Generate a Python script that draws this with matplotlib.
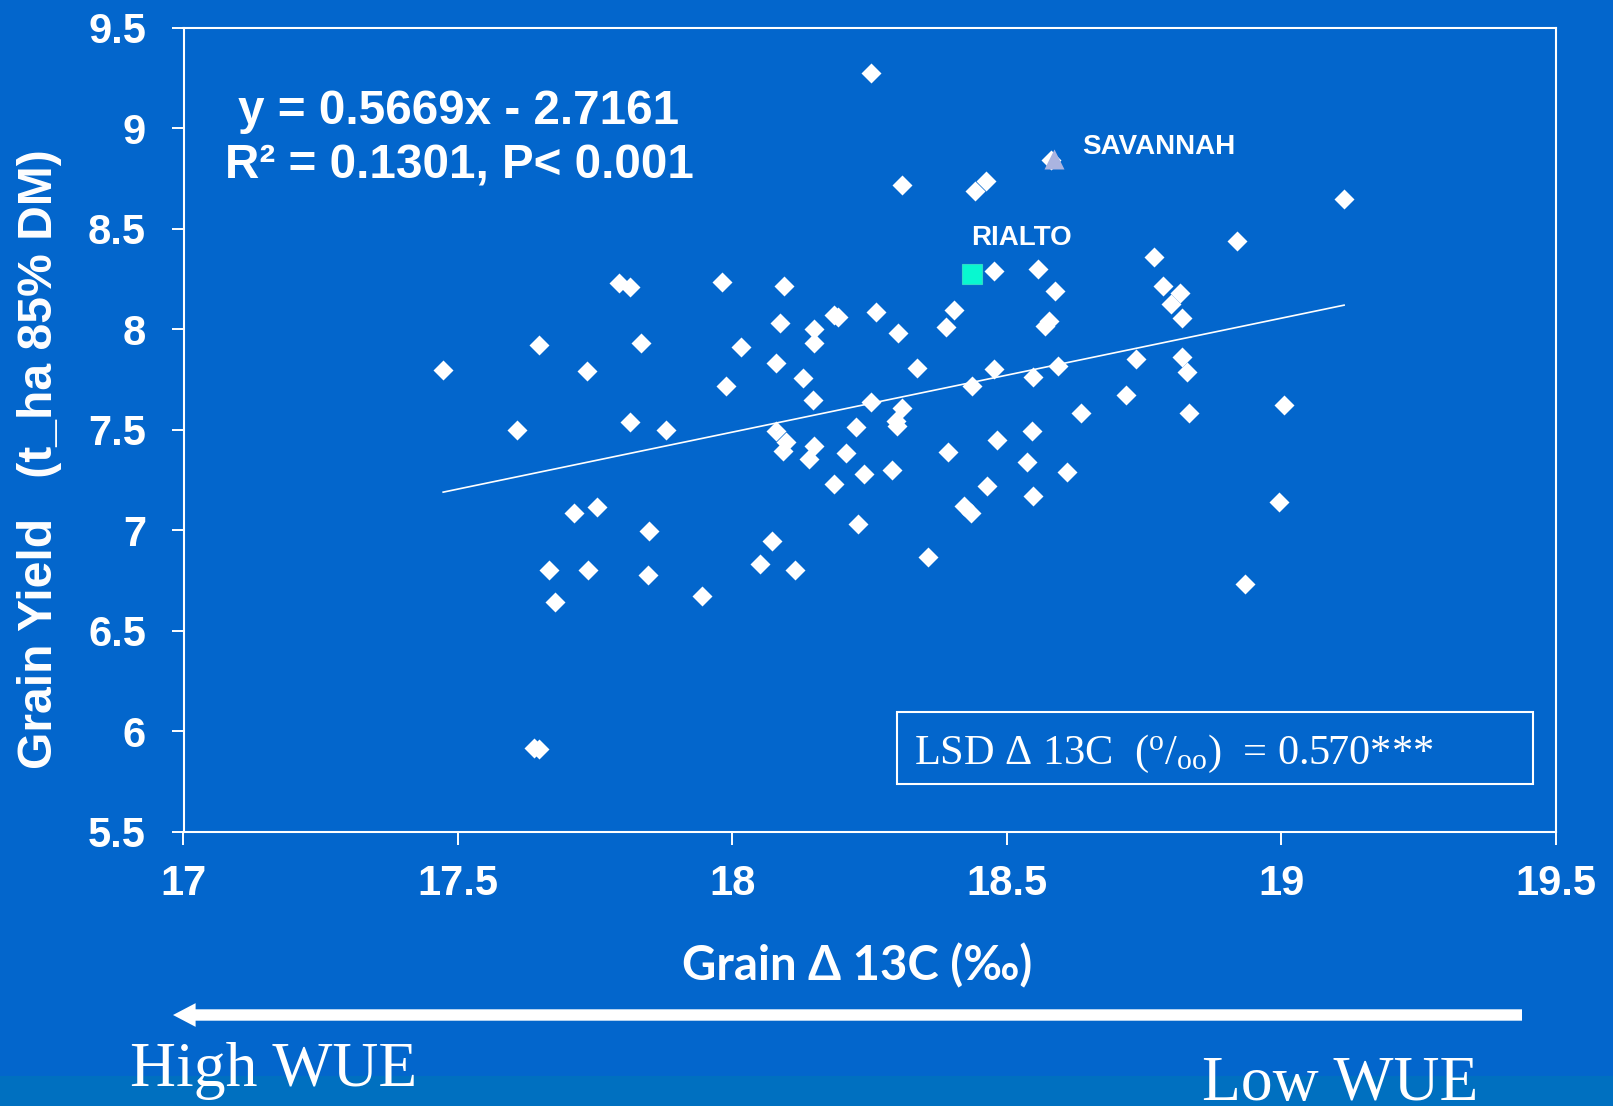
import matplotlib
matplotlib.use("Agg")
import matplotlib.pyplot as plt
import numpy as np
from matplotlib.patches import Rectangle, FancyArrow

# Grain carbon isotope discrimination (x, per mil) and grain yield (y, t/ha) per genotype
delta13c = [17.473, 17.647, 17.608, 17.735, 17.794, 17.814, 17.834, 17.814, 17.879, 17.981,
            18.016, 17.988, 17.712, 17.754, 17.848, 17.666, 17.737, 17.846, 17.677, 17.945,
            17.638, 17.648, 18.252, 18.308, 18.441, 18.462, 18.476, 18.557, 18.587, 18.093,
            18.086, 18.148, 18.149, 18.185, 18.193, 18.079, 18.129, 18.147, 18.262, 18.302,
            18.336, 18.404, 18.389, 18.576, 18.569, 18.476, 18.436, 18.547, 18.253, 18.309,
            18.298, 18.300, 18.225, 18.079, 18.098, 18.092, 18.149, 18.139, 18.207, 18.240,
            18.290, 18.185, 18.229, 18.072, 18.051, 18.114, 18.393, 18.357, 18.422, 18.435,
            18.464, 18.481, 18.546, 18.536, 18.547, 19.114, 18.919, 18.768, 18.784, 18.815,
            18.799, 18.819, 18.593, 18.735, 18.819, 18.828, 18.716, 18.635, 18.831, 19.004,
            18.609, 18.995, 18.933, 18.581]
grain_yield = [7.795, 7.921, 7.497, 7.791, 8.231, 8.209, 7.930, 7.540, 7.499, 8.233,
               7.910, 7.717, 7.084, 7.115, 6.995, 6.800, 6.800, 6.776, 6.644, 6.673,
               5.918, 5.910, 9.273, 8.719, 8.689, 8.739, 8.290, 8.300, 8.190, 8.216,
               8.029, 8.003, 7.933, 8.070, 8.062, 7.830, 7.756, 7.648, 8.087, 7.980,
               7.809, 8.096, 8.012, 8.042, 8.017, 7.800, 7.717, 7.764, 7.639, 7.607,
               7.545, 7.518, 7.515, 7.494, 7.440, 7.396, 7.420, 7.353, 7.383, 7.280,
               7.298, 7.228, 7.029, 6.948, 6.830, 6.804, 7.391, 6.865, 7.120, 7.084,
               7.218, 7.447, 7.494, 7.341, 7.169, 8.646, 8.437, 8.358, 8.215, 8.179,
               8.125, 8.054, 7.817, 7.850, 7.863, 7.789, 7.671, 7.582, 7.582, 7.623,
               7.291, 7.139, 6.732, 8.842]

# Highlighted cultivars
rialto_x, rialto_y = [18.436], [8.275]
savannah_x, savannah_y = [18.585], [8.848]

# Linear fit y = slope * x + intercept
slope, intercept = 0.5669, -2.7161

x_ticks = [17, 17.5, 18, 18.5, 19, 19.5]
y_ticks = [5.5, 6, 6.5, 7, 7.5, 8, 8.5, 9, 9.5]

BG = "#0366CC"
STRIP = "#0070C0"
SANS = "Liberation Sans"
SERIF = "Liberation Serif"

plt.rcParams["mathtext.fontset"] = "custom"
plt.rcParams["mathtext.rm"] = SERIF
plt.rcParams["mathtext.it"] = SERIF + ":italic"

W, H = 1613, 1106
fig = plt.figure(figsize=(W / 100, H / 100), dpi=100, facecolor=BG)

# lighter strip along the bottom edge
fig.patches.append(Rectangle((0, 0), 1, 30 / H, transform=fig.transFigure,
                             facecolor=STRIP, edgecolor="none", zorder=0))

ax_l, ax_r, ax_t, ax_b = 183.5, 1556, 27.7, 831.7
ax = fig.add_axes([ax_l / W, 1 - ax_b / H, (ax_r - ax_l) / W, (ax_b - ax_t) / H])
ax.set_facecolor(BG)
ax.set_xlim(17, 19.5)
ax.set_ylim(5.5, 9.5)

for sp in ax.spines.values():
    sp.set_color("white")
    sp.set_linewidth(1.5)

ax.set_xticks(x_ticks)
ax.set_yticks(y_ticks)
ax.set_xticklabels([f"{v:g}" for v in x_ticks])
ax.set_yticklabels([f"{v:g}" for v in y_ticks])
ax.tick_params(axis="both", direction="out", length=9, width=1.4, color="white",
               labelcolor="white", labelsize=30)
ax.tick_params(axis="x", pad=14.5)
ax.tick_params(axis="y", pad=18)
for lab in ax.get_xticklabels() + ax.get_yticklabels():
    lab.set_fontfamily(SANS)
    lab.set_fontweight("bold")

# regression line over the observed range
xs = np.array([min(delta13c), max(delta13c)])
ax.plot(xs, slope * xs + intercept, color="white", lw=1.2, zorder=2)

ax.plot(delta13c, grain_yield, linestyle="none", marker="D", ms=10.4,
        mfc="white", mec="none", zorder=3)
ax.plot(rialto_x, rialto_y, linestyle="none", marker="s", ms=14.6,
        mfc="#08F8D0", mec="#30D8C8", mew=0.8, zorder=4)
ax.plot(savannah_x, savannah_y, linestyle="none", marker="^", ms=14.8,
        mfc="#AAB4E0", mec="none", zorder=4)

ax.text(18.637, 8.874, "SAVANNAH", color="white", fontsize=20, fontweight="bold",
        family=SANS, ha="left", va="baseline")
ax.text(18.434, 8.418, "RIALTO", color="white", fontsize=20, fontweight="bold",
        family=SANS, ha="left", va="baseline")

# regression equation
fig.text(459 / W, 1 - 124 / H, "y = 0.5669x - 2.7161", color="white", fontsize=34.3,
         fontweight="bold", family=SANS, ha="center", va="baseline")
fig.text(459 / W, 1 - 178 / H, "R² = 0.1301, P< 0.001", color="white", fontsize=34.3,
         fontweight="bold", family=SANS, ha="center", va="baseline")

# LSD box
ax.add_patch(Rectangle((0.5202, 0.0593), 0.9833 - 0.5202, 0.1485 - 0.0593,
                       transform=ax.transAxes, facecolor="none", edgecolor="white",
                       lw=1.5, zorder=5))
ax.text(0.532, 0.0842, r"LSD Δ 13C  ($^{\mathrm{o}}/_{\mathrm{oo}}$)  = 0.570***",
        transform=ax.transAxes, color="white", fontsize=30.5, family=SERIF,
        ha="left", va="baseline", zorder=6)

# axis titles
fig.text(40 / W, 1 - 459 / H, "Grain Yield   (t_ha 85% DM)", rotation=90, color="white",
         fontsize=34.6, fontweight="bold", family=SANS, ha="center", va="center")
fig.text(857.5 / W, 1 - 980.7 / H, "Grain Δ 13C (‰)", color="white", fontsize=34,
         fontweight="bold", family=["Lato", "DejaVu Sans"], ha="center", va="baseline")

# WUE direction arrow
fig.patches.append(FancyArrow(15.22, 0.91, -(15.22 - 1.73), 0, width=0.114,
                              head_width=0.237, head_length=0.226,
                              length_includes_head=True, transform=fig.dpi_scale_trans,
                              facecolor="white", edgecolor="none", zorder=3))

fig.text(130 / W, 20 / H, "High WUE", color="white", fontsize=45.8, family=SERIF,
         ha="left", va="baseline", zorder=5)
fig.text(1202 / W, 6 / H, "Low WUE", color="white", fontsize=45.8, family=SERIF,
         ha="left", va="baseline", zorder=5)

fig.savefig("out.png", dpi=100, facecolor=BG)
